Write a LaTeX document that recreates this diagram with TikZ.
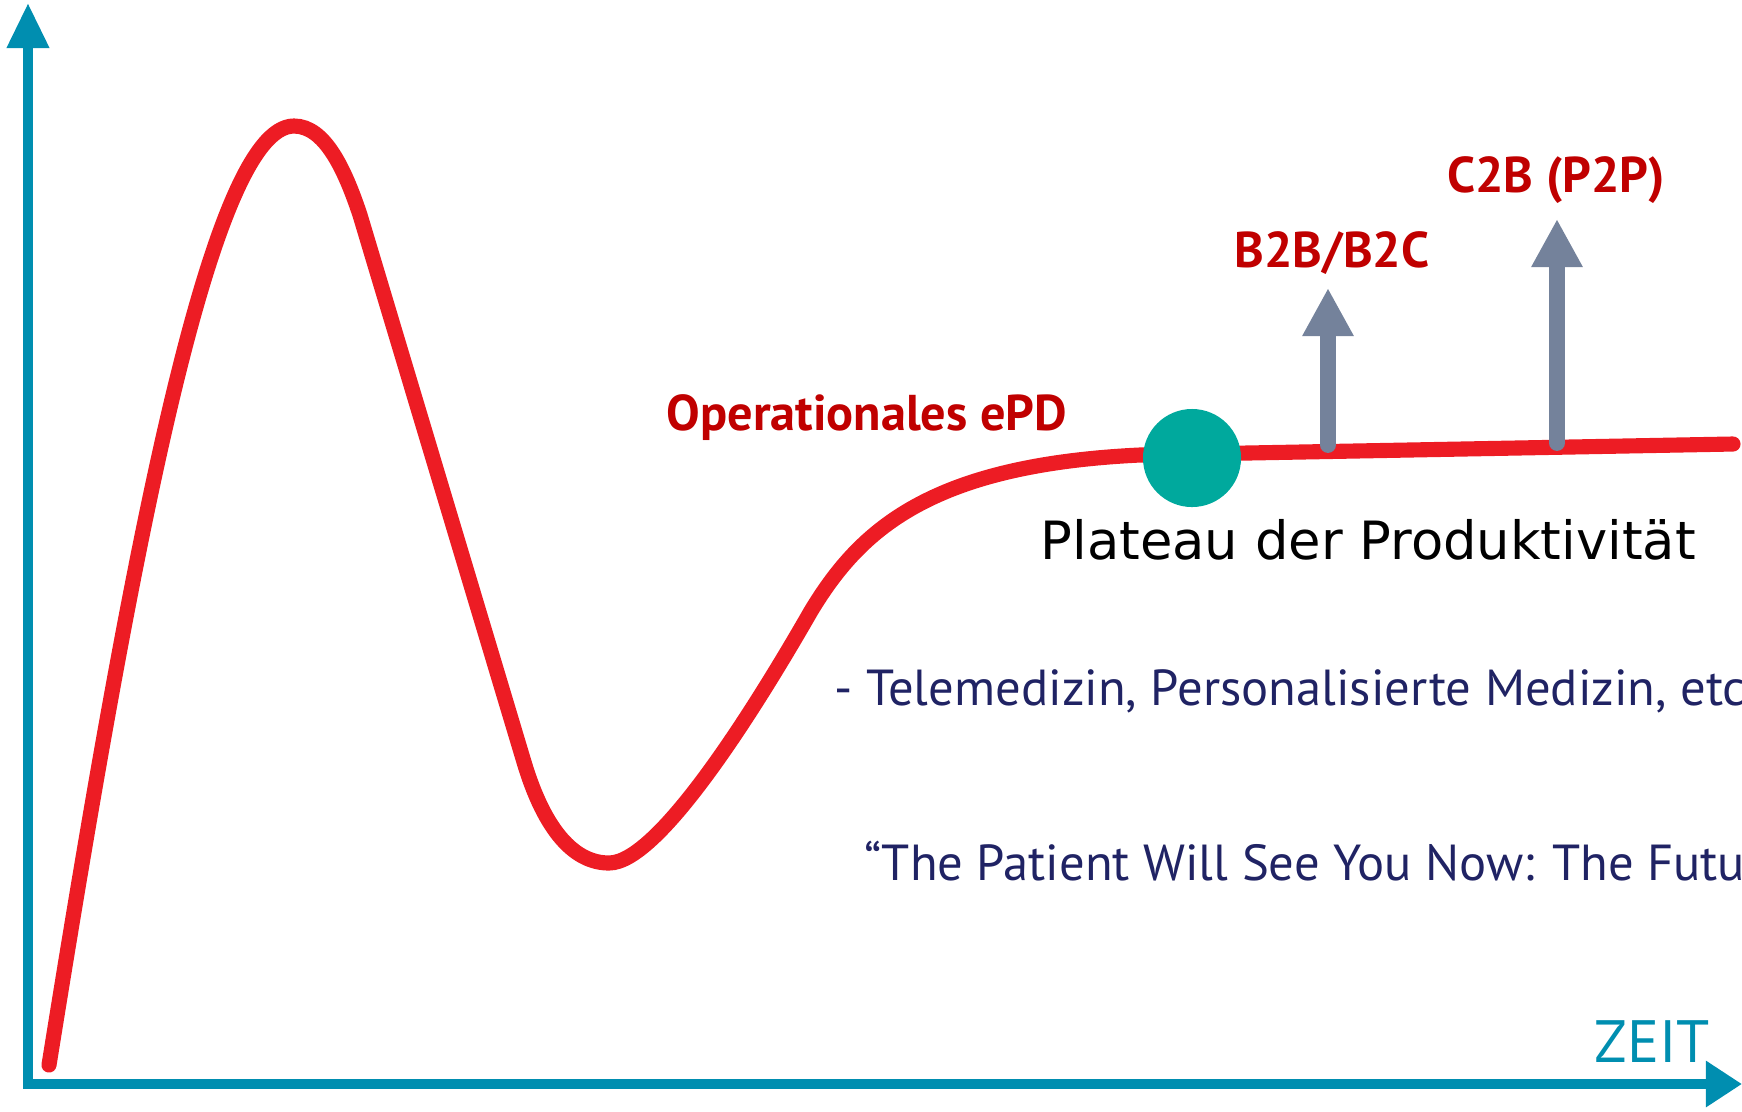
\documentclass[tikz,border=0pt]{standalone}
\usepackage{fontspec}
\setmainfont{PT Sans}
\newfontfamily\plateaufont{DejaVu Sans}
\usetikzlibrary{arrows.meta,positioning}

\definecolor{axisblue}{RGB}{0,142,176}
\definecolor{curvered}{RGB}{237,28,36}
\definecolor{labelred}{RGB}{192,0,0}
\definecolor{dotgreen}{RGB}{0,169,157}
\definecolor{arrowgray}{RGB}{116,130,155}
\definecolor{textblue}{RGB}{32,35,100}

\begin{document}
\begin{tikzpicture}[x=0.01cm, y=-0.01cm,
    axis/.style={draw=axisblue, line width=2.85pt, line join=miter},
    hype/.style={draw=curvered, line width=4.3pt, line cap=round},
    uparrow/.style={draw=arrowgray, line width=4.5pt, line cap=round,
                    -{Triangle[length=0.48cm,width=0.48cm]}},
    dot/.style={circle, fill=dotgreen, minimum size=0.98cm, inner sep=0pt},
    redlabel/.style={text=labelred, inner sep=0pt, font=\bfseries\fontsize{14.3}{16}\selectfont},
    bluetext/.style={text=textblue, inner sep=0pt, font=\fontsize{14.4}{17}\selectfont}]

  \clip (0,0) rectangle (1742,1111);

  % axes
  \coordinate (O) at (28,1084);
  \coordinate (ytop) at (28,3);
  \coordinate (xend) at (1742,1084);
  \draw[axis, {Triangle[length=0.45cm,width=0.40cm]}-{Triangle[length=0.36cm,width=0.44cm]}]
    (ytop) -- (O) -- (xend);
  \node[text=axisblue, inner sep=0pt, anchor=base west, font=\fontsize{17}{20}\selectfont]
    (zeit) at (1594,1062) {ZEIT};

  % hype curve
  \draw[hype] (49,1065) .. controls (130,560) and (210,126) .. (294,126)
    .. controls (325,126) and (345,170) .. (360,215)
    -- (524,762)
    .. controls (545,832) and (575,863) .. (609,863)
    .. controls (660,863) and (760,700) .. (811,611)
    .. controls (860,530) and (930,465) .. (1140,455)
    -- (1733,444);

  \node[dot] (plateau) at (1192,458) {};

  % arrows on the plateau
  \coordinate (b1) at (1328,445);
  \coordinate (b1tip) at (1328,288);
  \coordinate (c1) at (1557,443);
  \coordinate (c1tip) at (1557,219);
  \draw[uparrow] (b1) -- (b1tip);
  \draw[uparrow] (c1) -- (c1tip);

  % labels
  \node[redlabel, anchor=base west] (epd) at (666,430) {Operationales ePD};
  \node[redlabel, anchor=base] (b2b) at (1332,267) {B2B/B2C};
  \node[redlabel, anchor=base] (c2b) at (1556,192) {C2B (P2P)};
  \node[inner sep=0pt, anchor=base west, font=\plateaufont\fontsize{15}{18}\selectfont]
    (plat) at (1040,559) {Plateau der Produktivität};
  \node[bluetext, anchor=base west] (tele) at (834,705) {- Telemedizin, Personalisierte Medizin, etc};
  \node[bluetext, anchor=base west] (topol) at (864,880) {“The Patient Will See You Now: The Futu};
\end{tikzpicture}
\end{document}
